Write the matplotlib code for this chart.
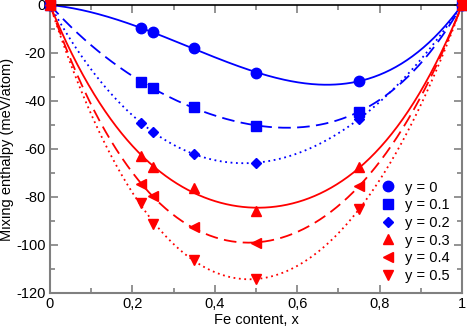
import numpy as np
import matplotlib
matplotlib.use("Agg")
import matplotlib.pyplot as plt
from matplotlib.ticker import MultipleLocator, FuncFormatter

plt.rcParams['font.family'] = ['Liberation Sans', 'DejaVu Sans']

# Fe content (x) y entalpía de mezcla por serie (y = contenido)
x_fe = [0.0, 0.22, 0.25, 0.35, 0.5, 0.75, 1.0]
h_y00 = [0.0, -9.7, -11.4, -18.0, -28.2, -31.7, 0.0]
h_y01 = [0.0, -32.0, -34.7, -42.6, -50.4, -44.4, 0.0]
h_y02 = [0.0, -49.0, -52.8, -62.2, -65.7, -47.5, 0.0]
h_y03 = [0.0, -62.9, -67.5, -76.4, -85.7, -67.6, 0.0]
h_y04 = [0.0, -74.6, -79.6, -92.6, -99.3, -75.4, 0.0]
h_y05 = [0.0, -82.6, -91.2, -106.2, -114.3, -85.1, 0.0]
labels = ['y = 0', 'y = 0.1', 'y = 0.2', 'y = 0.3', 'y = 0.4', 'y = 0.5']

series = [h_y00, h_y01, h_y02, h_y03, h_y04, h_y05]
colors = ['#0000ff', '#0000ff', '#0000ff', '#ff0000', '#ff0000', '#ff0000']
markers = ['o', 's', 'D', '^', '<', 'v']
msizes = [7.5, 6.5, 5.5, 7.5, 7.5, 7.5]
styles = ['-', (0, (7, 3.5)), (0, (1, 2)), '-', (0, (7, 3.5)), (0, (1, 2))]


def rk_fit(x, h, deg=2):
    # ajuste tipo Redlich-Kister: x(1-x) * polinomio
    x = np.asarray(x)
    h = np.asarray(h)
    base = x * (1 - x)
    A = np.column_stack([base * x ** k for k in range(deg + 1)])
    coef, *_ = np.linalg.lstsq(A, h, rcond=None)
    xs = np.linspace(0, 1, 300)
    Bs = np.column_stack([xs * (1 - xs) * xs ** k for k in range(deg + 1)])
    return xs, Bs @ coef


fig = plt.figure(figsize=(4.67, 3.27), dpi=100)
ax = fig.add_axes([50 / 467, 1 - 293 / 327, 412 / 467, 288 / 327])

for h, c, m, ms, ls, lab in zip(series, colors, markers, msizes, styles, labels):
    xs, hs = rk_fit(x_fe, h)
    ax.plot(xs, hs, color=c, linestyle=ls, linewidth=1.3)
    ax.plot(x_fe, h, linestyle='none', marker=m, color=c, markersize=ms,
            clip_on=False, zorder=5, label=lab)

ax.set_xlim(0, 1)
ax.set_ylim(-120, 0)
ax.xaxis.set_major_locator(MultipleLocator(0.2))
ax.xaxis.set_minor_locator(MultipleLocator(0.1))
ax.yaxis.set_major_locator(MultipleLocator(20))
ax.yaxis.set_minor_locator(MultipleLocator(10))


def fmt_x(v, pos):
    if abs(v) < 1e-9:
        return '0'
    if abs(v - 1) < 1e-9:
        return '1'
    return f'{v:.1f}'.replace('.', ',')


ax.xaxis.set_major_formatter(FuncFormatter(fmt_x))
ax.yaxis.set_major_formatter(FuncFormatter(lambda v, p: f'{v:.0f}'))

gris = '#808080'
for s in ['left', 'bottom', 'right']:
    ax.spines[s].set_color(gris)
    ax.spines[s].set_linewidth(1.5)
ax.spines['top'].set_color('black')
ax.spines['top'].set_linewidth(1.2)
ax.tick_params(which='both', direction='in', top=True, right=True,
               color=gris, labelsize=10.5, width=1.2, pad=3)
ax.tick_params(which='major', length=6)
ax.tick_params(which='minor', length=3.5)

ax.set_xlabel('Fe content, x', fontsize=10.5, labelpad=1)
ax.set_ylabel('Mixing enthalpy (meV/atom)', fontsize=10.5, labelpad=2)

ax.legend(loc='lower right', bbox_to_anchor=(0.995, 0.0), frameon=False,
          fontsize=10.5, handletextpad=0.5, labelspacing=0.25,
          borderaxespad=0.3, handlelength=1.3)

fig.savefig('out.png', dpi=100)
